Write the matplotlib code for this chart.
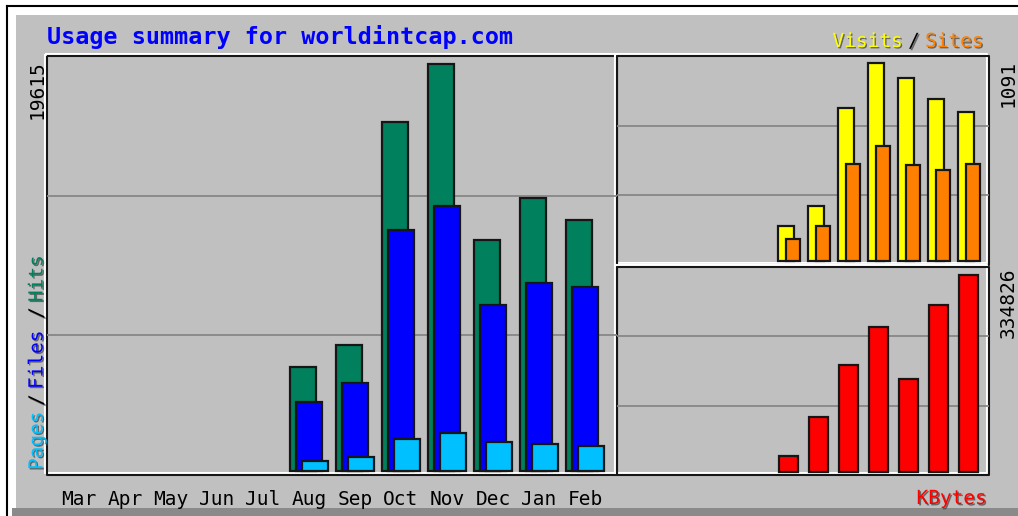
import matplotlib
matplotlib.use("Agg")
import matplotlib.pyplot as plt
import matplotlib.patheffects as pe
from matplotlib.patches import Rectangle

# monthly totals, Mar .. Feb
months = ["Mar", "Apr", "May", "Jun", "Jul", "Aug", "Sep", "Oct", "Nov", "Dec", "Jan", "Feb"]
hits = [0, 0, 0, 0, 0, 5010, 6070, 16820, 19615, 11130, 13160, 12100]
files = [0, 0, 0, 0, 0, 3325, 4240, 11615, 12770, 8000, 9060, 8870]
pages = [0, 0, 0, 0, 0, 480, 675, 1540, 1830, 1400, 1300, 1205]
visits = [0, 0, 0, 0, 0, 193, 303, 843, 1091, 1008, 893, 821]
sites = [0, 0, 0, 0, 0, 121, 193, 534, 634, 529, 501, 534]
kbytes = [0, 0, 0, 0, 0, 27190, 93480, 181860, 246450, 158070, 283840, 334826]

# colours (webalizer defaults)
col_hits = "#00805c"
col_files = "#0000ff"
col_pages = "#00c0ff"
col_visits = "#ffff00"
col_sites = "#ff8000"
col_kbytes = "#ff0000"
col_bg = "#c0c0c0"
col_grid = "#878787"
col_edge = "#161616"

W, H = 1018, 516
mono = "DejaVu Sans Mono"
small = 14

fig = plt.figure(figsize=(W / 100, H / 100), dpi=100, facecolor="white")

# background axes in pixel units (y grows downwards)
bg = fig.add_axes([0, 0, 1, 1])
bg.set_xlim(0, W)
bg.set_ylim(H, 0)
bg.axis("off")

bg.add_patch(Rectangle((16, 15), W - 16, 508 - 15, fc=col_bg, lw=0))
bg.add_patch(Rectangle((12, 508), W - 12, H - 508, fc="#8a8a8a", lw=0))
bg.plot([7, 7], [6, H], color="black", lw=1.5)
bg.plot([7, W], [6, 6], color="black", lw=1.5)


def rect_line(x0, y0, x1, y1, color):
    bg.plot([x0, x1, x1, x0, x0], [y0, y0, y1, y1, y0], color=color, lw=1.5,
            solid_capstyle="butt")


def panel(x0, y0, x1, y1):
    # sunken frame: white box shifted up-left, dark box on top
    rect_line(x0 - 2, y0 - 2, x1 - 2, y1 - 2, "white")
    rect_line(x0, y0, x1, y1, col_edge)
    ax = fig.add_axes([x0 / W, 1 - y1 / H, (x1 - x0) / W, (y1 - y0) / H])
    ax.set_facecolor("none")
    for s in ax.spines.values():
        s.set_visible(False)
    ax.set_yticks([])
    ax.set_xticks([])
    for f in (1 / 3, 2 / 3):
        ax.plot([0, 1], [f, f], transform=ax.transAxes, color=col_grid, lw=1.3, zorder=0)
    return ax


def bars(ax, values, offset, width, color):
    xs = [i + offset for i, v in enumerate(values) if v > 0]
    vs = [v for v in values if v > 0]
    ax.bar(xs, vs, width=width, align="edge", color=color, edgecolor=col_edge,
           linewidth=1.6, zorder=2)


# main panel: hits / files / pages, one month slot = 46 px
ax1 = panel(47, 56, 617, 475)
bars(ax1, hits, 0, 26 / 46, col_hits)
bars(ax1, files, 6 / 46, 26 / 46, col_files)
bars(ax1, pages, 12 / 46, 26 / 46, col_pages)
ax1.set_xlim(-13 / 46, 557 / 46)
ax1.set_ylim(-4 * max(hits) / 407, 415 * max(hits) / 407)
ax1.set_xticks([i + 19 / 46 for i in range(12)], months)
ax1.tick_params(axis="x", length=0, pad=11, labelsize=small)
for t in ax1.get_xticklabels():
    t.set_family(mono)

# visits / sites, one month slot = 30 px
ax2 = panel(617, 56, 989, 265)
bars(ax2, visits, 0, 16 / 30, col_visits)
bars(ax2, sites, 8 / 30, 14 / 30, col_sites)
ax2.set_xlim(-11 / 30, 361 / 30)
ax2.set_ylim(-4 * max(visits) / 198, 205 * max(visits) / 198)

# kbytes
ax3 = panel(617, 267, 989, 475)
bars(ax3, kbytes, 0, 19 / 30, col_kbytes)
ax3.set_xlim(-12 / 30, 360 / 30)
ax3.set_ylim(-3 * max(kbytes) / 197, 205 * max(kbytes) / 197)

# texts
shadow = [pe.withSimplePatchShadow(offset=(1, -1), shadow_rgbFace="#404040", alpha=0.7)]

bg.text(47, 44, "Usage summary for worldintcap.com", color=col_files, fontsize=16.8,
        fontweight="bold", family=mono, va="baseline", ha="left")

bg.text(37, 60, str(max(hits)), rotation=90, ha="center", va="top", fontsize=small, family=mono)
bg.text(1008, 60, str(max(visits)), rotation=90, ha="center", va="top", fontsize=small, family=mono)
bg.text(1008, 268, str(max(kbytes)), rotation=90, ha="center", va="top", fontsize=small, family=mono)


def label(x, y, s, color, **kw):
    bg.text(x, y, s, color=color, fontsize=small, family=mono, path_effects=shadow, **kw)


# Pages / Files / Hits, written upwards
label(37, 470, "Pages", col_pages, rotation=90, ha="center", va="bottom")
label(37, 400, "/", "black", rotation=90, ha="center", va="center")
label(37, 389, "Files", col_files, rotation=90, ha="center", va="bottom")
label(37, 313, "/", "black", rotation=90, ha="center", va="center")
label(37, 302, "Hits", col_hits, rotation=90, ha="center", va="bottom")

# Visits / Sites
label(903, 47, "Visits", col_visits, ha="right", va="baseline")
label(914, 47, "/", "black", ha="center", va="baseline")
label(925, 47, "Sites", col_sites, ha="left", va="baseline")

label(987, 504, "KBytes", col_kbytes, ha="right", va="baseline")

fig.savefig("out.png", dpi=100, facecolor="white")
